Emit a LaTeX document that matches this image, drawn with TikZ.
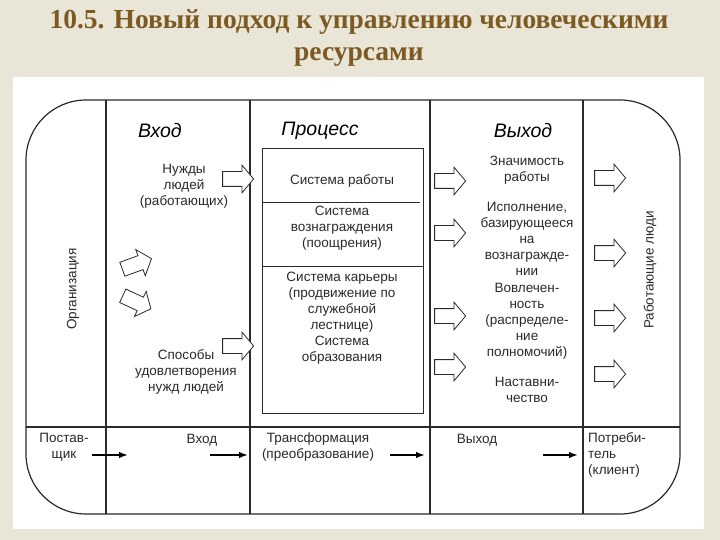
\documentclass[tikz,border=0pt]{standalone}
\usepackage{fontspec}
\setmainfont{Liberation Serif}
\newfontfamily\arial{Liberation Sans}
\usetikzlibrary{shapes.arrows,arrows.meta}
\definecolor{bgc}{HTML}{E9E6D8}
\definecolor{titlec}{HTML}{7D5A22}
\definecolor{ink}{HTML}{2A2A2A}
\begin{document}
\begin{tikzpicture}[x=1pt,y=-1pt,
  frame/.style={draw=ink, line width=1.2pt},
  txt/.style={font=\arial\fontsize{13.5}{16}\selectfont, text=ink, align=center, inner sep=0pt},
  headtxt/.style={font=\arial\itshape\fontsize{19.5}{21}\selectfont, text=black, inner sep=0pt},
  barrow/.style={single arrow, draw=ink, line width=0.8pt, fill=white, minimum height=31pt,
    minimum width=27pt, single arrow head extend=6.5pt, single arrow tip angle=100, inner sep=7pt},
  flow/.style={draw=black, line width=1.5pt, -{Latex[length=9pt,width=6.5pt]}},
  titletxt/.style={font=\bfseries\fontsize{27.5}{30}\selectfont, text=titlec, inner sep=0pt}]
\useasboundingbox (0,0) rectangle (720,540);
\fill[bgc] (0,0) rectangle (720,540);
\fill[white] (13,77) rectangle (704,529);
% title
\node[titletxt] (t1) at (359,22) {10.5. Новый подход к управлению человеческими};
\node[titletxt] (t2) at (359,57) {ресурсами};
% frame and grid
\draw[frame, rounded corners=60pt] (26,100) rectangle (680,514);
\draw[frame] (106,100) -- (106,514);
\draw[frame] (250,100) -- (250,514);
\draw[frame] (430,100) -- (430,514);
\draw[frame] (583,100) -- (583,514);
\draw[frame] (26,427) -- (680,427);
% process box
\node[draw=ink, line width=0.9pt, minimum width=161pt, minimum height=265pt, anchor=north west, inner sep=0pt] (proc) at (262,148) {};
\draw[ink, line width=0.9pt] (262,202) -- (420,202);
\draw[ink, line width=0.9pt] (262,266) -- (423,266);
% headings
\node[headtxt] (hin) at (160,131) {Вход};
\node[headtxt] (hproc) at (320,131) {Процесс};
\node[headtxt] (hout) at (523,131) {Выход};
% input column
\node[txt] (need) at (184,186) {Нужды\\людей\\(работающих)};
\node[txt] (ways) at (186,372) {Способы\\удовлетворения\\нужд людей};
\node[barrow] (a1) at (235,179) {};
\node[barrow] (a4) at (235,346) {};
\node[barrow, rotate=20] (a2) at (134,265) {};
\node[barrow, rotate=-25] (a3) at (134,301) {};
\node[txt, rotate=90] (org) at (73,289) {Организация};
% process texts
\node[txt] (p1) at (342,181) {Система работы};
\node[txt] (p2) at (342,228) {Система\\вознаграждения\\(поощрения)};
\node[txt] (p3) at (342,318) {Система карьеры\\(продвижение по\\служебной\\лестнице)\\Система\\образования};
% output column
\node[barrow] (o1) at (447,181) {};
\node[barrow] (o2) at (447,233) {};
\node[barrow] (o3) at (447,316) {};
\node[barrow] (o4) at (447,367) {};
\node[txt] (q1) at (527,170) {Значимость\\работы};
\node[txt] (q2) at (527,239) {Исполнение,\\базирующееся\\на\\вознагражде-\\нии};
\node[txt] (q3) at (527,321) {Вовлечен-\\ность\\(распределе-\\ние\\полномочий)};
\node[txt] (q4) at (527,390) {Наставни-\\чество};
% right column
\node[barrow] (r1) at (607,178) {};
\node[barrow] (r2) at (607,253) {};
\node[barrow] (r3) at (607,318) {};
\node[barrow] (r4) at (607,374) {};
\node[txt, rotate=90] (work) at (650,270) {Работающие люди};
% bottom row
\node[txt] (sup) at (64,447) {Постав-\\щик};
\node[txt] (bin) at (202,440) {Вход};
\node[txt] (btr) at (318,447) {Трансформация\\(преобразование)};
\node[txt] (bout) at (477,440) {Выход};
\node[txt, align=left, anchor=north west] (cons) at (588,432) {Потреби-\\тель\\(клиент)};
\coordinate (f1s) at (92,455); \coordinate (f1e) at (128,455);
\coordinate (f2s) at (210,455); \coordinate (f2e) at (248,455);
\coordinate (f3s) at (390,455); \coordinate (f3e) at (425,455);
\coordinate (f4s) at (543,455); \coordinate (f4e) at (578,455);
\draw[flow] (f1s) -- (f1e);
\draw[flow] (f2s) -- (f2e);
\draw[flow] (f3s) -- (f3e);
\draw[flow] (f4s) -- (f4e);
\end{tikzpicture}
\end{document}
